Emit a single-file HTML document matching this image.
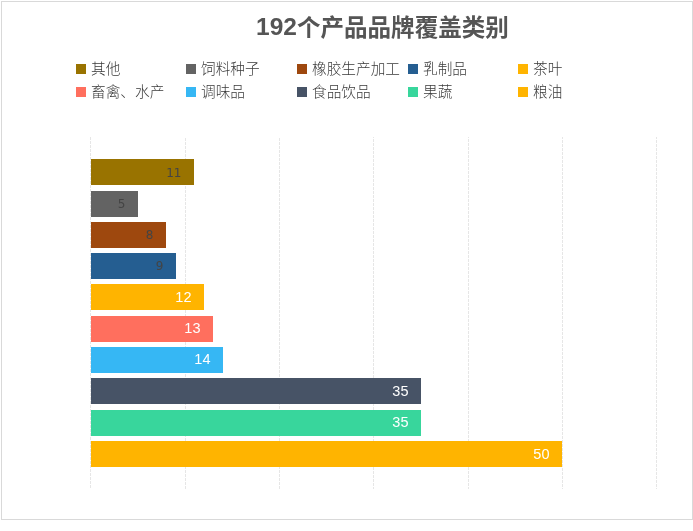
<!DOCTYPE html>
<html lang="zh-CN"><head><meta charset="utf-8"><title>192个产品品牌覆盖类别</title>
<style>
html,body{margin:0;padding:0;background:#fff;}
body{width:693px;height:531px;position:relative;overflow:hidden;font-family:"Liberation Sans","Noto Sans CJK SC",sans-serif;}
.frame{position:absolute;left:1px;top:1px;width:692px;height:519px;box-sizing:border-box;border:1px solid #d9d9d9;background:#fff;}
.title{position:absolute;left:256px;top:11px;font-size:23.55px;font-weight:bold;color:#555;line-height:34px;white-space:nowrap;}
.grid{position:absolute;top:137px;height:352px;width:1px;background-image:linear-gradient(to bottom,#e6e6e6 0,#e6e6e6 75%,rgba(255,255,255,0) 75%);background-size:1px 4px;background-repeat:repeat-y;}
.bar{position:absolute;left:91px;height:26px;}
.bar span{position:absolute;right:12.5px;top:0;line-height:26px;white-space:nowrap;}
.bar.d span{right:12.5px;font-size:12px;color:#444;font-family:"DejaVu Sans","Liberation Sans",sans-serif;}
.title b{font-size:24.5px;position:relative;top:-1px;}
.bar.w span{font-size:14.5px;color:#fff;}
.lg{position:absolute;font-size:14.67px;font-weight:300;color:#3a3a3a;line-height:20px;white-space:nowrap;}
.sq{position:absolute;width:10px;height:10px;}
</style></head><body>
<div class="frame"></div>
<div class="title"><b>192</b>个产品品牌覆盖类别</div>
<div class="grid" style="left:90px;background-position:0 0px"></div>
<div class="grid" style="left:185px;background-position:0 1px"></div>
<div class="grid" style="left:279px;background-position:0 1px"></div>
<div class="grid" style="left:373px;background-position:0 2px"></div>
<div class="grid" style="left:468px;background-position:0 2px"></div>
<div class="grid" style="left:562px;background-position:0 3px"></div>
<div class="grid" style="left:656px;background-position:0 3px"></div>
<div class="bar d" style="top:159px;width:103px;background:#997300"><span style="top:1px">11</span></div>
<div class="bar d" style="top:191px;width:47px;background:#636363"><span>5</span></div>
<div class="bar d" style="top:222px;width:75px;background:#9E480E"><span>8</span></div>
<div class="bar d" style="top:253px;width:85px;background:#255E91"><span>9</span></div>
<div class="bar w" style="top:284px;width:113px;background:#FFB400"><span>12</span></div>
<div class="bar w" style="top:316px;width:122px;background:#FF6F5E"><span style="top:-1px">13</span></div>
<div class="bar w" style="top:347px;width:132px;background:#36B7F4"><span style="top:-1px">14</span></div>
<div class="bar w" style="top:378px;width:330px;background:#475366"><span>35</span></div>
<div class="bar w" style="top:410px;width:330px;background:#38D69C"><span style="top:-1px">35</span></div>
<div class="bar w" style="top:441px;width:471px;background:#FFB400"><span>50</span></div>
<div class="sq" style="left:76px;top:64px;background:#997300"></div><div class="lg" style="left:91px;top:59px">其他</div>
<div class="sq" style="left:186px;top:64px;background:#636363"></div><div class="lg" style="left:201px;top:59px">饲料种子</div>
<div class="sq" style="left:297px;top:64px;background:#9E480E"></div><div class="lg" style="left:312px;top:59px">橡胶生产加工</div>
<div class="sq" style="left:408px;top:64px;background:#255E91"></div><div class="lg" style="left:423px;top:59px">乳制品</div>
<div class="sq" style="left:518px;top:64px;background:#FFB400"></div><div class="lg" style="left:533px;top:59px">茶叶</div>
<div class="sq" style="left:76px;top:87px;background:#FF6F5E"></div><div class="lg" style="left:91px;top:82px">畜禽、水产</div>
<div class="sq" style="left:186px;top:87px;background:#36B7F4"></div><div class="lg" style="left:201px;top:82px">调味品</div>
<div class="sq" style="left:297px;top:87px;background:#475366"></div><div class="lg" style="left:312px;top:82px">食品饮品</div>
<div class="sq" style="left:408px;top:87px;background:#38D69C"></div><div class="lg" style="left:423px;top:82px">果蔬</div>
<div class="sq" style="left:518px;top:87px;background:#FFB400"></div><div class="lg" style="left:533px;top:82px">粮油</div>
</body></html>
